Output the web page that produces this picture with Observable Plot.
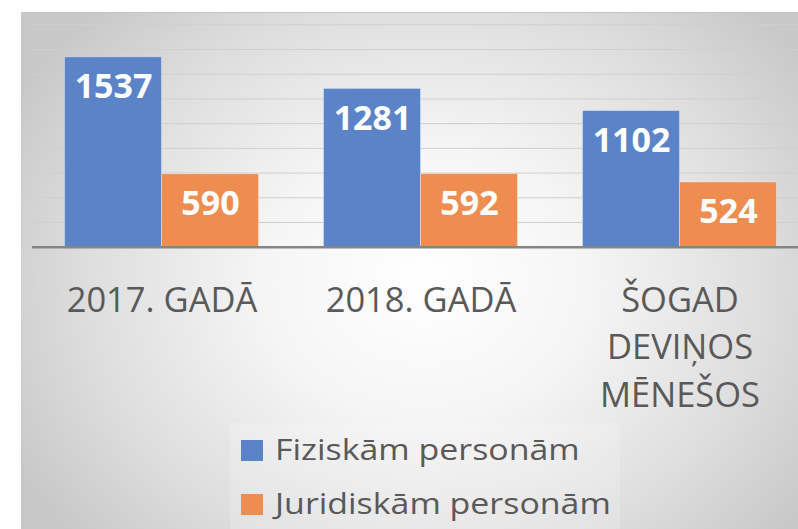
<!DOCTYPE html>
<html>
<head>
<meta charset="utf-8">
<script src="https://cdn.jsdelivr.net/npm/d3@7"></script>
<script src="https://cdn.jsdelivr.net/npm/@observablehq/plot@0.6"></script>
<style>
  html, body { margin: 0; padding: 0; background: #ffffff; }
  #wrap { position: relative; width: 798px; height: 529px; overflow: hidden; font-family: "Open Sans", sans-serif; }
  #bg { position: absolute; left: 21px; top: 12px; width: 777px; height: 517px;
        border-top: 1px solid #c4c4c4;
        background: radial-gradient(ellipse 60% 75% at 52% 52%, #ffffff 0%, #f5f5f5 35%, #dedede 72%, #c8c8c8 100%); }
  #chart { position: absolute; left: 0; top: 0; }
  #legendBox { position: absolute; left: 230px; top: 423px; width: 390px; height: 106px; background: rgba(255,255,255,0.18); }
  .sw { position: absolute; width: 22px; height: 21px; }
  .lt { position: absolute; font-size: 30px; line-height: 30px; color: #595959; white-space: nowrap; transform: scaleX(1.13); transform-origin: left center; }
</style>
</head>
<body>
<div id="wrap">
  <div id="bg"></div>
  <div id="legendBox"></div>
  <div id="chart"></div>
</div>
<script>
const categories = ["2017. GADĀ", "2018. GADĀ", "ŠOGAD\nDEVIŅOS\nMĒNEŠOS"];
const series = ["Fiziskām personām", "Juridiskām personām"];
const fiziskam = [1537, 1281, 1102];
const juridiskam = [590, 592, 524];
const colors = ["#5b83c8", "#ee8d4f"];
const gridTicks = [200, 400, 600, 800, 1000, 1200, 1400, 1600, 1800];

const data = categories.flatMap((c, i) => [
  {category: c, series: series[0], value: fiziskam[i]},
  {category: c, series: series[1], value: juridiskam[i]}
]);

const chart = Plot.plot({
  width: 798,
  height: 420,
  marginTop: 24.3,
  marginBottom: 173.3,
  marginLeft: 31.5,
  marginRight: -12,
  style: {background: "transparent", overflow: "visible", fontFamily: "Open Sans, sans-serif"},
  fx: {domain: categories, padding: 0, axis: null},
  x: {domain: series, paddingInner: 0, paddingOuter: 0.33, axis: null},
  y: {domain: [0, 1800], axis: null},
  color: {domain: series, range: colors},
  marks: [
    Plot.ruleY(gridTicks, {stroke: "#cfcfcf", strokeWidth: 1}),
    Plot.barY(data, {fx: "category", x: "series", y: "value", fill: "series", stroke: "#ffffff", strokeOpacity: 0.35, strokeWidth: 1}),
    Plot.ruleY([0], {stroke: "#858585", strokeWidth: 2.5}),
    Plot.text(data, {fx: "category", x: "series", y: "value", text: d => String(d.value), dy: 30,
      fill: "white", fontWeight: "bold", fontSize: 34}),
    Plot.text(categories, {fx: d => d, text: d => d, frameAnchor: "bottom", lineAnchor: "top", dy: 30.5,
      fontSize: 34.5, lineHeight: 1.38, fill: "#595959"})
  ]
});
document.getElementById("chart").appendChild(chart);

// legend
const wrap = document.getElementById("wrap");
series.forEach((s, i) => {
  const rowTop = 434.4 + i * 54;
  const sw = document.createElement("div");
  sw.className = "sw";
  sw.style.left = "241px";
  sw.style.top = (rowTop + 5.6) + "px";
  sw.style.background = colors[i];
  wrap.appendChild(sw);
  const t = document.createElement("div");
  t.className = "lt";
  t.style.left = "275px";
  t.style.top = rowTop + "px";
  t.textContent = s;
  wrap.appendChild(t);
});
</script>
</body>
</html>
